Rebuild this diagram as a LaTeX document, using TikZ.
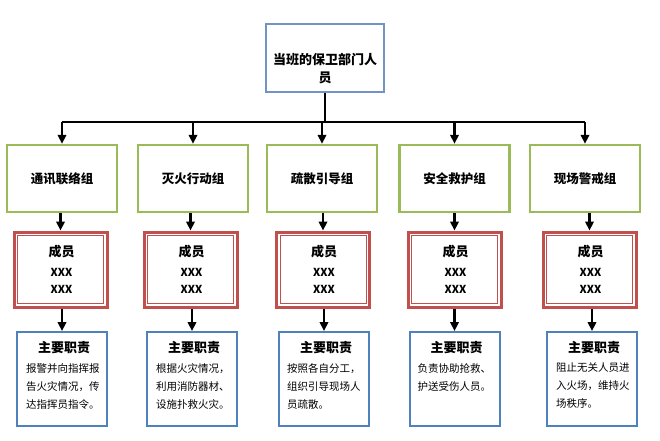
\documentclass[tikz,border=0pt]{standalone}
\usepackage{fontspec}
\setmainfont{Noto Sans CJK SC}
\usetikzlibrary{arrows.meta}
\definecolor{ogreen}{HTML}{9BBB59}
\definecolor{ored}{HTML}{C0504D}
\definecolor{oblue}{HTML}{4F81BD}
\definecolor{topblue}{HTML}{7393C3}
\tikzset{
  topbox/.style={draw=topblue, line width=1.5pt, minimum width=118pt, minimum height=68pt, inner sep=0pt},
  grp/.style={draw=ogreen, line width=2.5pt, minimum width=110pt, minimum height=67pt, inner sep=0pt,
    font=\bfseries\fontsize{12.5}{15}\selectfont},
  mem/.style={draw=ored, line width=3pt, minimum width=93pt, minimum height=75pt, inner sep=0pt},
  memin/.style={draw=ored, line width=0.9pt},
  duty/.style={draw=oblue, line width=2pt, minimum width=90pt, minimum height=94pt, inner sep=0pt},
  ttl/.style={inner sep=0pt, font=\bfseries\fontsize{13}{18}\selectfont},
  xx/.style={inner sep=0pt, font=\bfseries\fontsize{11}{13}\selectfont},
  body/.style={inner sep=0pt, anchor=north west, align=left, font=\fontsize{10.5}{18}\selectfont},
  arr/.style={line width=2.5pt, -{Triangle[width=8.5pt,length=9pt]}},
  bar/.style={line width=2.5pt},
}
\begin{document}
\begin{tikzpicture}[x=1pt,y=-1pt]
\useasboundingbox (0,0) rectangle (660,440);
% top box
\node[topbox] (top) at (325,58) {};
\node[ttl, align=center] (toptxt) at (325,69) {当班的保卫部门人\\员};
% groups
\node[grp] (g1) at (62,178.5) {通讯联络组};
\node[grp] (g2) at (193,178.5) {灭火行动组};
\node[grp] (g3) at (322,178.5) {疏散引导组};
\node[grp] (g4) at (454.5,178.5) {安全救护组};
\node[grp] (g5) at (585,178.5) {现场警戒组};
% tree
\coordinate (bar) at (325,122);
\draw[bar] (top.south) -- (bar);
\draw[bar] (g1.north |- bar) -- (g5.north |- bar);
\foreach \i in {1,...,5}{
  \draw[arr] (g\i.north |- bar) -- (g\i.north);
}
% members
\foreach \i/\x in {1/60.5,2/190.5,3/323,4/454.5,5/589.5}{
  \node[mem] (r\i) at (\x,269.5) {};
  \draw[memin] ([xshift=5pt,yshift=-5pt]r\i.north west) rectangle ([xshift=-5pt,yshift=5pt]r\i.south east);
  \node[ttl] (rt\i) at (\x+1,252) {成员};
  \node[xx] (rx\i) at (\x+1,272) {XXX};
  \node[xx] (ry\i) at (\x+1,289) {XXX};
}
% duties
\foreach \i/\x in {1/62,2/192,3/324,4/454.5,5/592}{
  \node[duty] (b\i) at (\x,379) {};
  \node[ttl] (bt\i) at (\x+2,348) {主要职责};
  \draw[arr] (g\i.south -| r\i.north) -- (r\i.north);
  \draw[arr] (r\i.south -| b\i.north) -- (b\i.north);
}
\node[body] (d1) at ([xshift=10pt,yshift=-32pt]b1.north west) {报警并向指挥报\\告火灾情况，传\\达指挥员指令。};
\node[body] (d2) at ([xshift=10pt,yshift=-32pt]b2.north west) {根据火灾情况，\\利用消防器材、\\设施扑救火灾。};
\node[body] (d3) at ([xshift=9pt,yshift=-32pt]b3.north west) {按照各自分工，\\组织引导现场人\\员疏散。};
\node[body] (d4) at ([xshift=9pt,yshift=-32pt]b4.north west) {负责协助抢救、\\护送受伤人员。};
\node[body] (d5) at ([xshift=10pt,yshift=-32pt]b5.north west) {阻止无关人员进\\入火场，维持火\\场秩序。};
\end{tikzpicture}
\end{document}
